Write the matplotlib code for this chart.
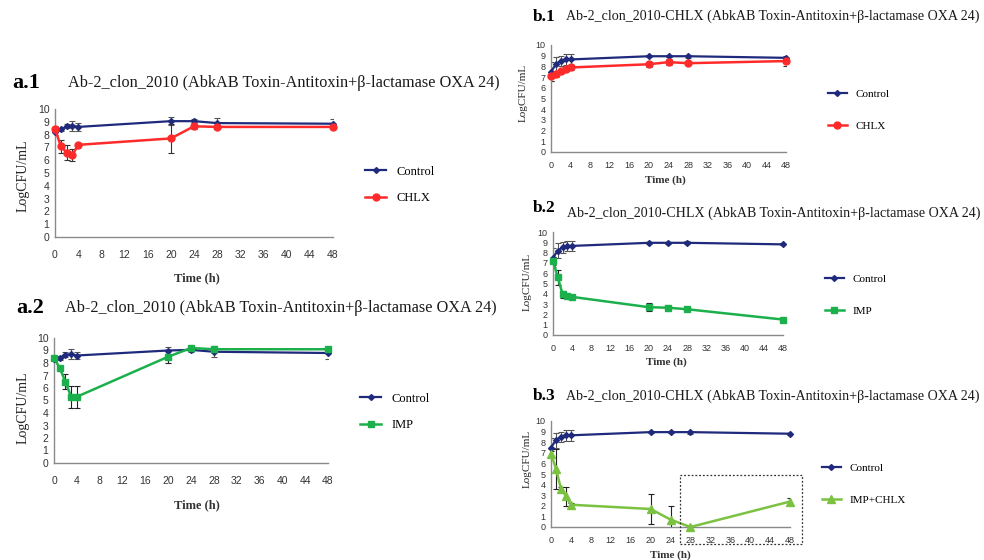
import matplotlib
matplotlib.use("Agg")
import matplotlib.pyplot as plt
from matplotlib.patches import Rectangle

#################################################################
# data (LogCFU/mL at each sampling time)
#################################################################
times = [0, 1, 2, 3, 4, 20, 24, 28, 48]
xticks = list(range(0, 49, 4))
yticks = list(range(0, 11))

a1_control = [8.2, 8.4, 8.65, 8.7, 8.6, 9.05, 9.05, 8.9, 8.85]
a1_control_err = [0.2, 0.15, 0.15, 0.4, 0.3, 0.3, 0.15, 0.4, 0.4]
a1_chlx = [8.45, 7.1, 6.6, 6.4, 7.2, 7.7, 8.65, 8.6, 8.6]
a1_chlx_err = [0.2, 0.5, 0.55, 0.5, 0.15, 1.1, 0.2, 0.15, 0.2]

a2_control = [8.3, 8.4, 8.65, 8.7, 8.6, 9.0, 9.05, 8.9, 8.8]
a2_control_err = [0.2, 0.15, 0.2, 0.4, 0.3, 0.3, 0.15, 0.45, 0.45]
a2_imp = [8.4, 7.6, 6.5, 5.3, 5.3, 8.5, 9.2, 9.1, 9.1]
a2_imp_err = [0.2, 0.2, 0.6, 0.9, 0.9, 0.5, 0.2, 0.2, 0.2]

b_control = [7.5, 8.2, 8.5, 8.65, 8.65, 8.95, 8.95, 8.95, 8.8]
b_control_err = [0.9, 0.7, 0.5, 0.5, 0.5, 0.1, 0.1, 0.15, 0.1]
b1_chlx = [7.1, 7.25, 7.6, 7.8, 7.9, 8.2, 8.4, 8.3, 8.5]
b1_chlx_err = [0.5, 0.2, 0.2, 0.2, 0.2, 0.25, 0.3, 0.15, 0.45]
b2_imp = [7.2, 5.6, 3.95, 3.8, 3.7, 2.7, 2.65, 2.5, 1.5]
b2_imp_err = [0.4, 0.7, 0.35, 0.2, 0.15, 0.4, 0.15, 0.15, 0.15]
b3_combo = [6.9, 5.5, 3.6, 2.9, 2.1, 1.7, 0.7, 0.0, 2.4]
b3_combo_err = [0.3, 1.9, 0.2, 0.9, 0.2, 1.4, 1.3, 0.0, 0.3]

title_a = "Ab-2_clon_2010 (AbkAB Toxin-Antitoxin+\u03b2-lactamase OXA 24)"
title_b = "Ab-2_clon_2010-CHLX (AbkAB Toxin-Antitoxin+\u03b2-lactamase OXA 24)"

NAVY = "#1f2a7c"
RED = "#ff2b2b"
GREEN = "#1bb04c"
LIGHTGREEN = "#7cc242"

SERIF = "Liberation Serif"
SANS = "Liberation Sans"

W, H = 984, 560
fig = plt.figure(figsize=(W / 100, H / 100), dpi=100)


def fx(x):
    return x / W


def fy(y):
    return 1 - y / H


# styles for each kind of series
styles = {
    "Control": dict(color=NAVY, marker="D", ms=3, lw=1.6, ecolor="#555555"),
    "CHLX": dict(color=RED, marker="o", ms=5, lw=1.8, ecolor="#333333"),
    "IMP": dict(color=GREEN, marker="s", ms=4.5, lw=1.8, ecolor="#222222"),
    "IMP+CHLX": dict(color=LIGHTGREEN, marker="^", ms=5.5, lw=1.8, ecolor="#222222"),
}


#################################################################
# draws one panel; positions are given in pixels of the final image
#################################################################
def panel(box, tag, tag_pos, tag_fs, title, title_pos, title_fs, series,
          leg_pos, leg_fs, leg_space, tick_fs, xpad, ylab_pos, ylab_fs, xlab_pos, xlab_fs):
    x0, ytop, x1, ybot = box
    ax = fig.add_axes([fx(x0), fy(ybot), fx(x1 - x0), (ybot - ytop) / H])

    handles = []
    for name, vals, errs in series:
        st = styles[name]
        ax.errorbar(times, vals, yerr=errs, fmt="none", ecolor=st["ecolor"],
                    elinewidth=0.8, capsize=2, capthick=0.8, zorder=2)
        ln, = ax.plot(times, vals, color=st["color"], marker=st["marker"], ms=st["ms"],
                      lw=st["lw"], label=name, zorder=3, clip_on=False)
        handles.append(ln)

    ax.set_xlim(0, 48)
    ax.set_ylim(0, 10)
    ax.set_xticks(xticks)
    ax.set_yticks(yticks)
    ax.tick_params(length=0, labelsize=tick_fs, colors="#333333")
    ax.tick_params(axis="x", pad=xpad)
    ax.tick_params(axis="y", pad=4)
    for lab in ax.get_xticklabels() + ax.get_yticklabels():
        lab.set_fontfamily(SANS)
    for s in ["top", "right"]:
        ax.spines[s].set_visible(False)
    for s in ["left", "bottom"]:
        ax.spines[s].set_color("#8a8a8a")
        ax.spines[s].set_linewidth(1)

    fig.text(fx(tag_pos[0]), fy(tag_pos[1]), tag, fontfamily=SERIF, fontweight="bold",
             fontsize=tag_fs, ha="left", va="center")
    fig.text(fx(title_pos[0]), fy(title_pos[1]), title, fontfamily=SERIF,
             fontsize=title_fs, ha="left", va="center", color="#1a1a1a")
    fig.text(fx(ylab_pos[0]), fy(ylab_pos[1]), "LogCFU/mL", fontfamily=SERIF,
             fontsize=ylab_fs, rotation=90, ha="center", va="center", color="#222222")
    fig.text(fx(xlab_pos[0]), fy(xlab_pos[1]), "Time (h)", fontfamily=SERIF,
             fontsize=xlab_fs, fontweight="bold", ha="center", va="center", color="#333333")

    ax.legend(handles=handles, loc="center left", bbox_to_anchor=(fx(leg_pos[0]), fy(leg_pos[1])),
              bbox_transform=fig.transFigure, frameon=False, borderpad=0, borderaxespad=0,
              labelspacing=leg_space, handlelength=1.7, handletextpad=0.8,
              prop={"family": SERIF, "size": leg_fs})
    return ax


panel((55, 109, 333, 237), "a.1", (12, 83), 16, title_a, (68, 83), 11.7,
      [("Control", a1_control, a1_control_err), ("CHLX", a1_chlx, a1_chlx_err)],
      (365, 185), 9, 1.15, 7.5, 9, (23, 176), 10, (197, 278), 9)

panel((54, 338, 328, 463), "a.2", (16, 308), 16, title_a, (65, 308), 11.7,
      [("Control", a2_control, a2_control_err), ("IMP", a2_imp, a2_imp_err)],
      (360, 412), 9, 1.2, 7.5, 9, (23, 408), 10, (197, 505), 9)

panel((551, 45, 786, 152), "b.1", (533, 17), 12.5, title_b, (566, 16), 10.1,
      [("Control", b_control, b_control_err), ("CHLX", b1_chlx, b1_chlx_err)],
      (828, 110), 8, 2.0, 6.5, 6.5, (523, 93), 8, (665, 180), 8)

panel((553, 232, 783, 335), "b.2", (533, 208), 12.5, title_b, (567, 213), 10.1,
      [("Control", b_control, b_control_err), ("IMP", b2_imp, b2_imp_err)],
      (825, 295), 8, 2.0, 6.5, 6.5, (527, 282), 8, (666, 362), 8)

panel((551, 421, 790, 527), "b.3", (533, 396), 12.5, title_b, (566, 396), 10.1,
      [("Control", b_control, b_control_err), ("IMP+CHLX", b3_combo, b3_combo_err)],
      (822, 484), 8, 2.0, 6.5, 6.5, (527, 459), 8, (670, 555), 8)

# dotted box highlighting the regrowth window in b.3
fig.add_artist(Rectangle((fx(680), fy(544)), fx(802) - fx(680), fy(475) - fy(544),
                         transform=fig.transFigure, fill=False, ls=(0, (1.5, 1.5)),
                         lw=0.9, ec="#333333"))

fig.savefig("out.png", dpi=100, facecolor="white")
